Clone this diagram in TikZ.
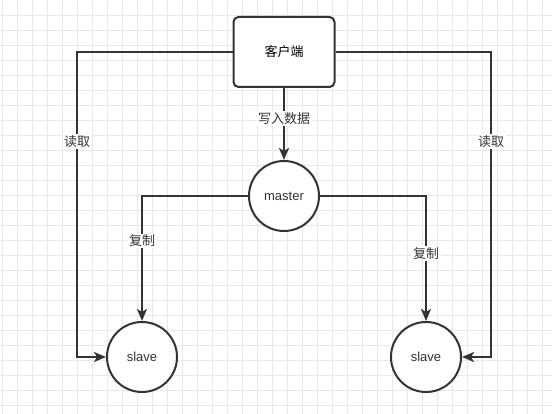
\documentclass[tikz,border=0pt]{standalone}
\usepackage{fontspec}
\setmainfont{Liberation Sans}
\newfontfamily\cjk{Noto Sans CJK SC}
\usetikzlibrary{arrows.meta,positioning}
\definecolor{inkgray}{HTML}{333333}
\definecolor{gridgray}{HTML}{E8E8E8}

\begin{document}
\begin{tikzpicture}[
  x=1pt, y=-1pt,
  font=\fontsize{13pt}{15pt}\selectfont,
  clientbox/.style={draw=inkgray, line width=2pt, rounded corners=5pt, fill=white,
    minimum width=101pt, minimum height=70pt, font=\cjk\fontsize{13pt}{15pt}\selectfont},
  redis/.style={draw=inkgray, line width=2pt, circle, fill=white, minimum size=70pt,
    text=inkgray},
  lbl/.style={fill=white, inner sep=1.5pt, text=inkgray, font=\cjk\fontsize{13pt}{15pt}\selectfont},
  arr/.style={-{Stealth[length=12pt, width=10pt, inset=3pt]}, draw=inkgray, line width=2pt}
]
\useasboundingbox (0,0) rectangle (552,414);
\fill[white] (0,0) rectangle (552,414);

% background grid
\foreach \gx in {2,17,...,550}
  \draw[gridgray, line width=0.7pt] (\gx,0) -- (\gx,414);
\foreach \gy in {15,30,...,405}
  \draw[gridgray, line width=0.7pt] (0,\gy) -- (552,\gy);

\node[clientbox] (client) at (284,52) {客户端};
\node[redis, below=72pt of client] (master) {master};
\node[redis] (slaveL) at (142,357) {slave};
\node[redis] (slaveR) at (426,357) {slave};

\coordinate (readL) at (77,52);
\coordinate (readR) at (491,52);

\draw[arr] (client) -- node[lbl, pos=0.43] {写入数据} (master);

\draw[arr] (client.west) -- (readL) -- node[lbl, pos=0.295] {读取} (readL |- slaveL) -- (slaveL.west);
\draw[arr] (client.east) -- (readR) -- node[lbl, pos=0.295] {读取} (readR |- slaveR) -- (slaveR.east);

\draw[arr] (master.west) -- (master.west -| slaveL) -- node[lbl, pos=0.36] {复制} (slaveL.north);
\draw[arr] (master.east) -- (master.east -| slaveR) -- node[lbl, pos=0.46] {复制} (slaveR.north);

\end{tikzpicture}
\end{document}
